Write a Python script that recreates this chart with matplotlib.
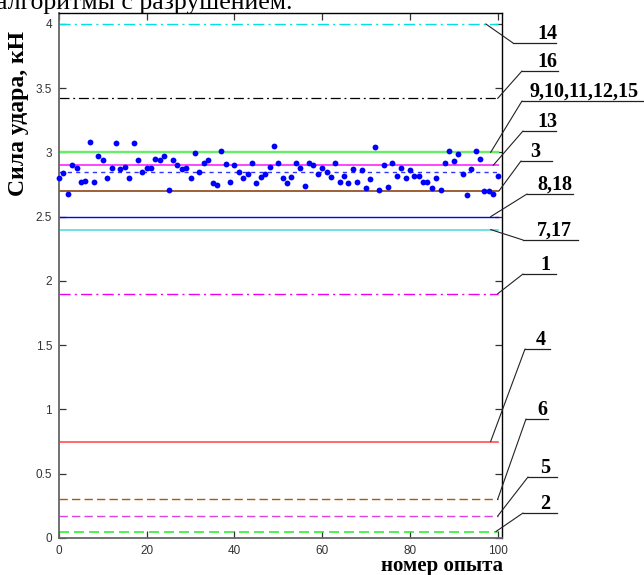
import numpy as np
import matplotlib
matplotlib.use("Agg")
import matplotlib.pyplot as plt
from matplotlib.lines import Line2D

# ---------------- data ----------------
experiment_no = list(range(0, 101))
impact_force = [
    2.80, 2.84, 2.68, 2.90, 2.88, 2.77, 2.78, 3.085, 2.77, 2.97, 2.94,
    2.80, 2.88, 3.07, 2.87, 2.89, 2.80, 3.07, 2.94, 2.85, 2.88,
    2.88, 2.95, 2.94, 2.97, 2.71, 2.94, 2.905, 2.87, 2.88, 2.80,
    2.995, 2.85, 2.92, 2.94, 2.76, 2.75, 3.01, 2.91, 2.77, 2.90,
    2.85, 2.80, 2.83, 2.92, 2.76, 2.81, 2.83, 2.89, 3.05, 2.92,
    2.80, 2.76, 2.81, 2.92, 2.88, 2.74, 2.92, 2.90, 2.83, 2.88,
    2.85, 2.81, 2.92, 2.77, 2.82, 2.76, 2.87, 2.77, 2.86, 2.72,
    2.79, 3.04, 2.71, 2.905, 2.73, 2.92, 2.82, 2.88, 2.805, 2.86,
    2.82, 2.82, 2.77, 2.77, 2.72, 2.80, 2.71, 2.92, 3.01, 2.93,
    2.985, 2.83, 2.67, 2.87, 3.01, 2.95, 2.70, 2.70, 2.68, 2.82,
]
mean_level = 2.85

level_labels = ["14", "16", "9,10,11,12,15", "13", "3", "8,18", "7,17",
                "1", "4", "6", "5", "2"]
level_values = [4.0, 3.42, 3.0, 2.9, 2.7, 2.5, 2.4, 1.9, 0.75, 0.3, 0.17, 0.05]

x_ticks = [0, 20, 40, 60, 80, 100]
y_ticks = [0, 0.5, 1, 1.5, 2, 2.5, 3, 3.5, 4]
y_tick_labels = ["0", "0.5", "1", "1.5", "2", "2.5", "3", "3.5", "4"]

# ---------------- styles / layout ----------------
level_styles = [
    dict(color="#00e0e8", ls=(0, (8, 3, 1.5, 3)), lw=1.0),   # 14
    dict(color="#000000", ls=(0, (8, 3, 1.5, 3)), lw=0.9),   # 16
    dict(color="#66ee66", ls="-", lw=1.7),                   # 9,10..
    dict(color="#ff44ff", ls="-", lw=1.4),                   # 13
    dict(color="#8b4513", ls="-", lw=1.2),                   # 3
    dict(color="#0000ff", ls="-", lw=1.0),                   # 8,18
    dict(color="#55dddd", ls="-", lw=1.2),                   # 7,17
    dict(color="#ee00ee", ls=(0, (8, 3, 1.5, 3)), lw=1.0),   # 1
    dict(color="#ff5050", ls="-", lw=1.2),                   # 4
    dict(color="#b05a00", ls=(0, (6, 3)), lw=1.0),           # 6
    dict(color="#dd44dd", ls=(0, (6, 3)), lw=1.0),           # 5
    dict(color="#33ee33", ls=(0, (6, 3)), lw=1.2),           # 2
]
# (leader start x in data, underline y px, underline x0 px, underline x1 px, text x px)
label_layout = [
    (97.3, 43, 513, 556, 537),
    (100.0, 71, 522, 558, 537),
    (98.4, 101, 522, 643, 529),
    (99.0, 131, 523, 556, 537),
    (100.3, 161, 521, 552, 530),
    (98.4, 194, 527, 573, 537),
    (98.4, 240, 523, 578, 537),
    (100.0, 274, 523, 556, 540),
    (98.4, 349, 525, 550, 536),
    (100.0, 419, 526, 548, 537),
    (100.0, 477, 528, 557, 540),
    (99.6, 513, 523, 557, 540),
]

W, H = 644, 575
fig = plt.figure(figsize=(W / 100, H / 100), dpi=100)
ax = fig.add_axes([59 / W, 1 - 538 / H, (502 - 59) / W, (538 - 13) / H])

serif = "Liberation Serif"

for val, st in zip(level_values, level_styles):
    ax.plot([0, 100], [val, val], color=st["color"], linestyle=st["ls"],
            linewidth=st["lw"], zorder=2)
ax.plot([0, 100], [mean_level, mean_level], color="#3333ff",
        linestyle=(0, (3, 3)), linewidth=1.0, zorder=2)

ax.plot(experiment_no, impact_force, "o", color="#0000ff", markersize=4.2,
        markeredgewidth=0, zorder=3, clip_on=False)

ax.set_xlim(0, 101)
ax.set_ylim(0, 4.085)
ax.set_xticks(x_ticks)
ax.set_xticklabels([str(t) for t in x_ticks])
ax.set_yticks(y_ticks)
ax.set_yticklabels(y_tick_labels)
ax.tick_params(direction="in", length=5, width=0.9, top=True, right=True,
               labelsize=8.5, pad=5, colors="#333333")
for lab in ax.get_xticklabels() + ax.get_yticklabels():
    lab.set_family("Liberation Sans")
for side in ["left", "bottom"]:
    ax.spines[side].set_color("#666666")
    ax.spines[side].set_linewidth(1.3)
for side in ["top", "right"]:
    ax.spines[side].set_color("#000000")
    ax.spines[side].set_linewidth(1.0)

# labels
fig.text(19 / W, 1 - 114 / H, "Сила удара, кН", rotation=90, fontsize=17,
         fontweight="bold", family=serif, ha="center", va="center")
fig.text(503 / W, 1 - 571 / H, "номер опыта", fontsize=15, fontweight="bold",
         family=serif, ha="right", va="baseline")
fig.text(-4 / W, 1 - 9 / H, "алгоритмы с разрушением.", fontsize=18.5,
         family=serif, ha="left", va="baseline")

# leader annotations
for lbl, val, lay in zip(level_labels, level_values, label_layout):
    xs, uy, ux0, ux1, tx = lay
    ax.annotate("", xy=(xs, val), xycoords="data",
                xytext=(ux0, H - uy), textcoords="figure pixels",
                arrowprops=dict(arrowstyle="-", color="#222222", lw=0.8,
                                shrinkA=0, shrinkB=0),
                annotation_clip=False)
    fig.add_artist(Line2D([ux0 / W, ux1 / W], [1 - uy / H, 1 - uy / H],
                          transform=fig.transFigure, color="#222222", lw=0.9))
    fig.text(tx / W, 1 - (uy - 4) / H, lbl, fontsize=14.5, fontweight="bold",
             family=serif, ha="left", va="baseline")

fig.savefig("out.png", dpi=100)
